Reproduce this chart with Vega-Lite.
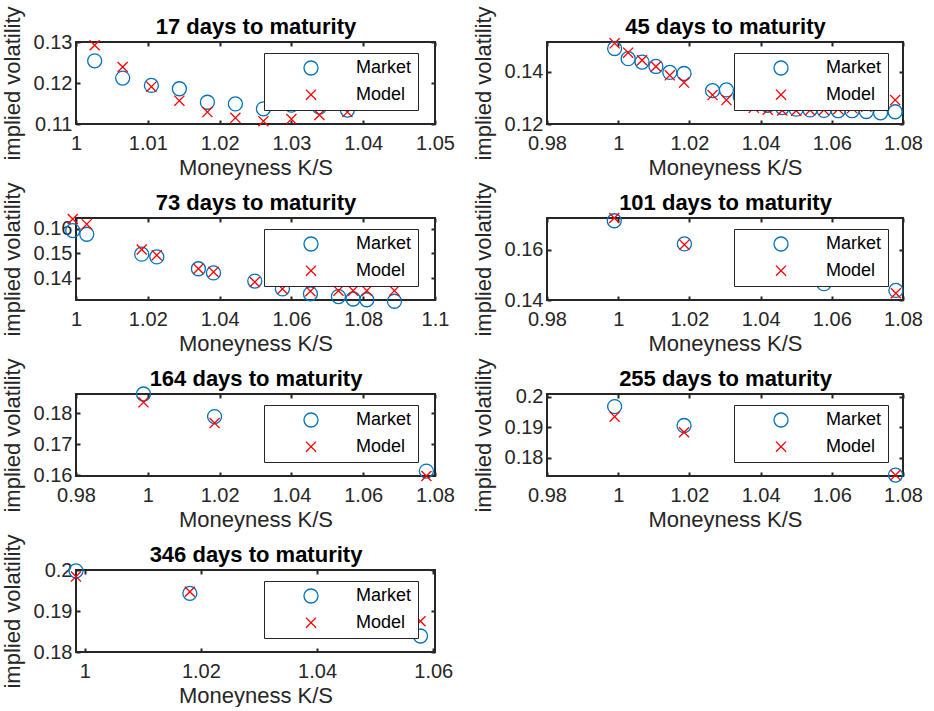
{
"$schema": "https://vega.github.io/schema/vega-lite/v6.json",
"background": "white",
"padding": {"left": 0, "top": 4, "right": 0, "bottom": 0},
"datasets": {"d": [
{"p":17,"s":"Market","k":1.0026,"v":0.1254},{"p":17,"s":"Market","k":1.0065,"v":0.1212},{"p":17,"s":"Market","k":1.0105,"v":0.1194},{"p":17,"s":"Market","k":1.0144,"v":0.1186},{"p":17,"s":"Market","k":1.0183,"v":0.1153},{"p":17,"s":"Market","k":1.0222,"v":0.1149},{"p":17,"s":"Market","k":1.0261,"v":0.1137},{"p":17,"s":"Market","k":1.0300,"v":0.1146},{"p":17,"s":"Market","k":1.0339,"v":0.1141},{"p":17,"s":"Market","k":1.0378,"v":0.1134},
{"p":17,"s":"Model","k":1.0026,"v":0.1292},{"p":17,"s":"Model","k":1.0065,"v":0.1239},{"p":17,"s":"Model","k":1.0105,"v":0.1191},{"p":17,"s":"Model","k":1.0144,"v":0.1157},{"p":17,"s":"Model","k":1.0183,"v":0.1129},{"p":17,"s":"Model","k":1.0222,"v":0.1115},{"p":17,"s":"Model","k":1.0261,"v":0.1107},{"p":17,"s":"Model","k":1.0300,"v":0.1112},{"p":17,"s":"Model","k":1.0339,"v":0.1122},{"p":17,"s":"Model","k":1.0378,"v":0.1129},
{"p":45,"s":"Market","k":0.9990,"v":0.1490},{"p":45,"s":"Market","k":1.0028,"v":0.1451},{"p":45,"s":"Market","k":1.0067,"v":0.1438},{"p":45,"s":"Market","k":1.0106,"v":0.1421},{"p":45,"s":"Market","k":1.0145,"v":0.1398},{"p":45,"s":"Market","k":1.0185,"v":0.1394},{"p":45,"s":"Market","k":1.0265,"v":0.1328},{"p":45,"s":"Market","k":1.0304,"v":0.1331},{"p":45,"s":"Market","k":1.0343,"v":0.1305},{"p":45,"s":"Market","k":1.0381,"v":0.1285},{"p":45,"s":"Market","k":1.0420,"v":0.1272},{"p":45,"s":"Market","k":1.0461,"v":0.1263},{"p":45,"s":"Market","k":1.0500,"v":0.1257},{"p":45,"s":"Market","k":1.0539,"v":0.1254},{"p":45,"s":"Market","k":1.0578,"v":0.1252},{"p":45,"s":"Market","k":1.0618,"v":0.1251},{"p":45,"s":"Market","k":1.0657,"v":0.1251},{"p":45,"s":"Market","k":1.0697,"v":0.1248},{"p":45,"s":"Market","k":1.0737,"v":0.1243},{"p":45,"s":"Market","k":1.0778,"v":0.1247},
{"p":45,"s":"Model","k":0.9990,"v":0.1510},{"p":45,"s":"Model","k":1.0028,"v":0.1474},{"p":45,"s":"Model","k":1.0067,"v":0.1445},{"p":45,"s":"Model","k":1.0106,"v":0.1421},{"p":45,"s":"Model","k":1.0145,"v":0.1387},{"p":45,"s":"Model","k":1.0185,"v":0.1359},{"p":45,"s":"Model","k":1.0265,"v":0.1311},{"p":45,"s":"Model","k":1.0304,"v":0.1292},{"p":45,"s":"Model","k":1.0343,"v":0.1277},{"p":45,"s":"Model","k":1.0381,"v":0.1262},{"p":45,"s":"Model","k":1.0420,"v":0.1255},{"p":45,"s":"Model","k":1.0461,"v":0.1252},{"p":45,"s":"Model","k":1.0500,"v":0.1251},{"p":45,"s":"Model","k":1.0539,"v":0.1253},{"p":45,"s":"Model","k":1.0578,"v":0.1254},{"p":45,"s":"Model","k":1.0618,"v":0.1257},{"p":45,"s":"Model","k":1.0657,"v":0.1261},{"p":45,"s":"Model","k":1.0697,"v":0.1266},{"p":45,"s":"Model","k":1.0737,"v":0.1273},{"p":45,"s":"Model","k":1.0778,"v":0.1292},
{"p":73,"s":"Market","k":0.9991,"v":0.1593},{"p":73,"s":"Market","k":1.0030,"v":0.1578},{"p":73,"s":"Market","k":1.0183,"v":0.1497},{"p":73,"s":"Market","k":1.0225,"v":0.1486},{"p":73,"s":"Market","k":1.0341,"v":0.1438},{"p":73,"s":"Market","k":1.0383,"v":0.1421},{"p":73,"s":"Market","k":1.0498,"v":0.1388},{"p":73,"s":"Market","k":1.0575,"v":0.1356},{"p":73,"s":"Market","k":1.0653,"v":0.1336},{"p":73,"s":"Market","k":1.0731,"v":0.1325},{"p":73,"s":"Market","k":1.0772,"v":0.1315},{"p":73,"s":"Market","k":1.0810,"v":0.1312},{"p":73,"s":"Market","k":1.0887,"v":0.1306},
{"p":73,"s":"Model","k":0.9991,"v":0.1640},{"p":73,"s":"Model","k":1.0030,"v":0.1619},{"p":73,"s":"Model","k":1.0183,"v":0.1516},{"p":73,"s":"Model","k":1.0225,"v":0.1493},{"p":73,"s":"Model","k":1.0341,"v":0.1438},{"p":73,"s":"Model","k":1.0383,"v":0.1425},{"p":73,"s":"Model","k":1.0498,"v":0.1384},{"p":73,"s":"Model","k":1.0575,"v":0.1356},{"p":73,"s":"Model","k":1.0653,"v":0.1347},{"p":73,"s":"Model","k":1.0731,"v":0.1349},{"p":73,"s":"Model","k":1.0772,"v":0.1349},{"p":73,"s":"Model","k":1.0810,"v":0.1349},{"p":73,"s":"Model","k":1.0887,"v":0.1349},
{"p":101,"s":"Market","k":0.9989,"v":0.1715},{"p":101,"s":"Market","k":1.0186,"v":0.1623},{"p":101,"s":"Market","k":1.0578,"v":0.1465},{"p":101,"s":"Market","k":1.0780,"v":0.1438},
{"p":101,"s":"Model","k":0.9989,"v":0.1726},{"p":101,"s":"Model","k":1.0186,"v":0.1620},{"p":101,"s":"Model","k":1.0578,"v":0.1485},{"p":101,"s":"Model","k":1.0780,"v":0.1427},
{"p":164,"s":"Market","k":0.9988,"v":0.1862},{"p":164,"s":"Market","k":1.0186,"v":0.1789},{"p":164,"s":"Market","k":1.0776,"v":0.1613},
{"p":164,"s":"Model","k":0.9988,"v":0.1835},{"p":164,"s":"Model","k":1.0186,"v":0.1768},{"p":164,"s":"Model","k":1.0776,"v":0.1597},
{"p":255,"s":"Market","k":0.9990,"v":0.1968},{"p":255,"s":"Market","k":1.0185,"v":0.1906},{"p":255,"s":"Market","k":1.0779,"v":0.1744},
{"p":255,"s":"Model","k":0.9990,"v":0.1935},{"p":255,"s":"Model","k":1.0185,"v":0.1884},{"p":255,"s":"Model","k":1.0779,"v":0.1744},
{"p":346,"s":"Market","k":0.9985,"v":0.1998},{"p":346,"s":"Market","k":1.0181,"v":0.1943},{"p":346,"s":"Market","k":1.0578,"v":0.1839},
{"p":346,"s":"Model","k":0.9985,"v":0.1984},{"p":346,"s":"Model","k":1.0181,"v":0.1947},{"p":346,"s":"Model","k":1.0578,"v":0.1875}
]},
"data": {"name": "d"},
"columns": 2,
"spacing": {"row": 94, "column": 112},
"bounds": "flush",
"resolve": {"scale": {"x": "independent", "y": "independent", "color": "independent", "shape": "independent"}, "legend": {"color": "independent", "shape": "independent"}, "axis": {"x": "independent", "y": "independent"}},
"concat": [
{"width": 359, "height": 82, "transform": [{"filter": "datum.p == 17"}],
 "layer": [
  {"mark": {"type": "point", "filled": false, "size": 196, "strokeWidth": 1.3, "opacity": 1},
   "encoding": {
    "x": {"field": "k", "type": "quantitative", "scale": {"domain": [1, 1.05], "nice": false, "zero": false}, "axis": {"values": [1, 1.01, 1.02, 1.03, 1.04, 1.05], "title": "Moneyness K/S", "labelFlush": false, "labelAlign": "center", "labelBound": false}},
    "y": {"field": "v", "type": "quantitative", "scale": {"domain": [0.11, 0.13], "nice": false, "zero": false}, "axis": {"values": [0.11, 0.12, 0.13], "title": "implied volatility"}},
    "color": {"field": "s", "type": "nominal", "scale": {"domain": ["Market", "Model"], "range": ["#0072BD", "#FF0000"]}, "legend": {"title": null, "orient": "none", "legendX": 188, "legendY": 11}},
    "shape": {"field": "s", "type": "nominal", "scale": {"domain": ["Market", "Model"], "range": ["circle", "M-0.72,-0.72L0.72,0.72M-0.72,0.72L0.72,-0.72"]}, "legend": {"title": null, "orient": "none", "legendX": 188, "legendY": 11}}}},
  {"mark": {"type": "point", "opacity": 0},
   "encoding": {
    "x": {"field": "k", "type": "quantitative", "scale": {"domain": [1, 1.05], "nice": false, "zero": false}, "axis": {"orient": "top", "values": [1, 1.01, 1.02, 1.03, 1.04, 1.05], "title": "17 days to maturity"}},
    "y": {"field": "v", "type": "quantitative", "scale": {"domain": [0.11, 0.13], "nice": false, "zero": false}, "axis": {"orient": "right", "values": [0.11, 0.12, 0.13], "title": null}}}}
 ],
 "resolve": {"axis": {"x": "independent", "y": "independent"}}},
{"width": 356, "height": 82, "transform": [{"filter": "datum.p == 45"}],
 "layer": [
  {"mark": {"type": "point", "filled": false, "size": 196, "strokeWidth": 1.3, "opacity": 1},
   "encoding": {
    "x": {"field": "k", "type": "quantitative", "scale": {"domain": [0.98, 1.08], "nice": false, "zero": false}, "axis": {"values": [0.98, 1, 1.02, 1.04, 1.06, 1.08], "title": "Moneyness K/S", "labelFlush": false, "labelAlign": "center", "labelBound": false}},
    "y": {"field": "v", "type": "quantitative", "scale": {"domain": [0.12, 0.1515], "nice": false, "zero": false}, "axis": {"values": [0.12, 0.14], "title": "implied volatility"}},
    "color": {"field": "s", "type": "nominal", "scale": {"domain": ["Market", "Model"], "range": ["#0072BD", "#FF0000"]}, "legend": {"title": null, "orient": "none", "legendX": 187, "legendY": 11}},
    "shape": {"field": "s", "type": "nominal", "scale": {"domain": ["Market", "Model"], "range": ["circle", "M-0.72,-0.72L0.72,0.72M-0.72,0.72L0.72,-0.72"]}, "legend": {"title": null, "orient": "none", "legendX": 187, "legendY": 11}}}},
  {"mark": {"type": "point", "opacity": 0},
   "encoding": {
    "x": {"field": "k", "type": "quantitative", "scale": {"domain": [0.98, 1.08], "nice": false, "zero": false}, "axis": {"orient": "top", "values": [0.98, 1, 1.02, 1.04, 1.06, 1.08], "title": "45 days to maturity"}},
    "y": {"field": "v", "type": "quantitative", "scale": {"domain": [0.12, 0.1515], "nice": false, "zero": false}, "axis": {"orient": "right", "values": [0.12, 0.14], "title": null}}}}
 ],
 "resolve": {"axis": {"x": "independent", "y": "independent"}}},
{"width": 359, "height": 82, "transform": [{"filter": "datum.p == 73"}],
 "layer": [
  {"mark": {"type": "point", "filled": false, "size": 196, "strokeWidth": 1.3, "opacity": 1},
   "encoding": {
    "x": {"field": "k", "type": "quantitative", "scale": {"domain": [1, 1.1], "nice": false, "zero": false}, "axis": {"values": [1, 1.02, 1.04, 1.06, 1.08, 1.1], "title": "Moneyness K/S", "labelFlush": false, "labelAlign": "center", "labelBound": false}},
    "y": {"field": "v", "type": "quantitative", "scale": {"domain": [0.1311, 0.1644], "nice": false, "zero": false}, "axis": {"values": [0.14, 0.15, 0.16], "title": "implied volatility"}},
    "color": {"field": "s", "type": "nominal", "scale": {"domain": ["Market", "Model"], "range": ["#0072BD", "#FF0000"]}, "legend": {"title": null, "orient": "none", "legendX": 188, "legendY": 11}},
    "shape": {"field": "s", "type": "nominal", "scale": {"domain": ["Market", "Model"], "range": ["circle", "M-0.72,-0.72L0.72,0.72M-0.72,0.72L0.72,-0.72"]}, "legend": {"title": null, "orient": "none", "legendX": 188, "legendY": 11}}}},
  {"mark": {"type": "point", "opacity": 0},
   "encoding": {
    "x": {"field": "k", "type": "quantitative", "scale": {"domain": [1, 1.1], "nice": false, "zero": false}, "axis": {"orient": "top", "values": [1, 1.02, 1.04, 1.06, 1.08, 1.1], "title": "73 days to maturity"}},
    "y": {"field": "v", "type": "quantitative", "scale": {"domain": [0.1311, 0.1644], "nice": false, "zero": false}, "axis": {"orient": "right", "values": [0.14, 0.15, 0.16], "title": null}}}}
 ],
 "resolve": {"axis": {"x": "independent", "y": "independent"}}},
{"width": 356, "height": 82, "transform": [{"filter": "datum.p == 101"}],
 "layer": [
  {"mark": {"type": "point", "filled": false, "size": 196, "strokeWidth": 1.3, "opacity": 1},
   "encoding": {
    "x": {"field": "k", "type": "quantitative", "scale": {"domain": [0.98, 1.08], "nice": false, "zero": false}, "axis": {"values": [0.98, 1, 1.02, 1.04, 1.06, 1.08], "title": "Moneyness K/S", "labelFlush": false, "labelAlign": "center", "labelBound": false}},
    "y": {"field": "v", "type": "quantitative", "scale": {"domain": [0.14, 0.1726], "nice": false, "zero": false}, "axis": {"values": [0.14, 0.16], "title": "implied volatility"}},
    "color": {"field": "s", "type": "nominal", "scale": {"domain": ["Market", "Model"], "range": ["#0072BD", "#FF0000"]}, "legend": {"title": null, "orient": "none", "legendX": 187, "legendY": 11}},
    "shape": {"field": "s", "type": "nominal", "scale": {"domain": ["Market", "Model"], "range": ["circle", "M-0.72,-0.72L0.72,0.72M-0.72,0.72L0.72,-0.72"]}, "legend": {"title": null, "orient": "none", "legendX": 187, "legendY": 11}}}},
  {"mark": {"type": "point", "opacity": 0},
   "encoding": {
    "x": {"field": "k", "type": "quantitative", "scale": {"domain": [0.98, 1.08], "nice": false, "zero": false}, "axis": {"orient": "top", "values": [0.98, 1, 1.02, 1.04, 1.06, 1.08], "title": "101 days to maturity"}},
    "y": {"field": "v", "type": "quantitative", "scale": {"domain": [0.14, 0.1726], "nice": false, "zero": false}, "axis": {"orient": "right", "values": [0.14, 0.16], "title": null}}}}
 ],
 "resolve": {"axis": {"x": "independent", "y": "independent"}}},
{"width": 359, "height": 82, "transform": [{"filter": "datum.p == 164"}],
 "layer": [
  {"mark": {"type": "point", "filled": false, "size": 196, "strokeWidth": 1.3, "opacity": 1},
   "encoding": {
    "x": {"field": "k", "type": "quantitative", "scale": {"domain": [0.98, 1.08], "nice": false, "zero": false}, "axis": {"values": [0.98, 1, 1.02, 1.04, 1.06, 1.08], "title": "Moneyness K/S", "labelFlush": false, "labelAlign": "center", "labelBound": false}},
    "y": {"field": "v", "type": "quantitative", "scale": {"domain": [0.1597, 0.1862], "nice": false, "zero": false}, "axis": {"values": [0.16, 0.17, 0.18], "title": "implied volatility"}},
    "color": {"field": "s", "type": "nominal", "scale": {"domain": ["Market", "Model"], "range": ["#0072BD", "#FF0000"]}, "legend": {"title": null, "orient": "none", "legendX": 188, "legendY": 11}},
    "shape": {"field": "s", "type": "nominal", "scale": {"domain": ["Market", "Model"], "range": ["circle", "M-0.72,-0.72L0.72,0.72M-0.72,0.72L0.72,-0.72"]}, "legend": {"title": null, "orient": "none", "legendX": 188, "legendY": 11}}}},
  {"mark": {"type": "point", "opacity": 0},
   "encoding": {
    "x": {"field": "k", "type": "quantitative", "scale": {"domain": [0.98, 1.08], "nice": false, "zero": false}, "axis": {"orient": "top", "values": [0.98, 1, 1.02, 1.04, 1.06, 1.08], "title": "164 days to maturity"}},
    "y": {"field": "v", "type": "quantitative", "scale": {"domain": [0.1597, 0.1862], "nice": false, "zero": false}, "axis": {"orient": "right", "values": [0.16, 0.17, 0.18], "title": null}}}}
 ],
 "resolve": {"axis": {"x": "independent", "y": "independent"}}},
{"width": 356, "height": 82, "transform": [{"filter": "datum.p == 255"}],
 "layer": [
  {"mark": {"type": "point", "filled": false, "size": 196, "strokeWidth": 1.3, "opacity": 1},
   "encoding": {
    "x": {"field": "k", "type": "quantitative", "scale": {"domain": [0.98, 1.08], "nice": false, "zero": false}, "axis": {"values": [0.98, 1, 1.02, 1.04, 1.06, 1.08], "title": "Moneyness K/S", "labelFlush": false, "labelAlign": "center", "labelBound": false}},
    "y": {"field": "v", "type": "quantitative", "scale": {"domain": [0.1741, 0.2009], "nice": false, "zero": false}, "axis": {"values": [0.18, 0.19, 0.2], "title": "implied volatility"}},
    "color": {"field": "s", "type": "nominal", "scale": {"domain": ["Market", "Model"], "range": ["#0072BD", "#FF0000"]}, "legend": {"title": null, "orient": "none", "legendX": 187, "legendY": 11}},
    "shape": {"field": "s", "type": "nominal", "scale": {"domain": ["Market", "Model"], "range": ["circle", "M-0.72,-0.72L0.72,0.72M-0.72,0.72L0.72,-0.72"]}, "legend": {"title": null, "orient": "none", "legendX": 187, "legendY": 11}}}},
  {"mark": {"type": "point", "opacity": 0},
   "encoding": {
    "x": {"field": "k", "type": "quantitative", "scale": {"domain": [0.98, 1.08], "nice": false, "zero": false}, "axis": {"orient": "top", "values": [0.98, 1, 1.02, 1.04, 1.06, 1.08], "title": "255 days to maturity"}},
    "y": {"field": "v", "type": "quantitative", "scale": {"domain": [0.1741, 0.2009], "nice": false, "zero": false}, "axis": {"orient": "right", "values": [0.18, 0.19, 0.2], "title": null}}}}
 ],
 "resolve": {"axis": {"x": "independent", "y": "independent"}}},
{"width": 359, "height": 82, "transform": [{"filter": "datum.p == 346"}],
 "layer": [
  {"mark": {"type": "point", "filled": false, "size": 196, "strokeWidth": 1.3, "opacity": 1},
   "encoding": {
    "x": {"field": "k", "type": "quantitative", "scale": {"domain": [0.9985, 1.0603], "nice": false, "zero": false}, "axis": {"values": [1, 1.02, 1.04, 1.06], "title": "Moneyness K/S", "labelFlush": false, "labelAlign": "center", "labelBound": false}},
    "y": {"field": "v", "type": "quantitative", "scale": {"domain": [0.18, 0.2], "nice": false, "zero": false}, "axis": {"values": [0.18, 0.19, 0.2], "title": "implied volatility"}},
    "color": {"field": "s", "type": "nominal", "scale": {"domain": ["Market", "Model"], "range": ["#0072BD", "#FF0000"]}, "legend": {"title": null, "orient": "none", "legendX": 188, "legendY": 11}},
    "shape": {"field": "s", "type": "nominal", "scale": {"domain": ["Market", "Model"], "range": ["circle", "M-0.72,-0.72L0.72,0.72M-0.72,0.72L0.72,-0.72"]}, "legend": {"title": null, "orient": "none", "legendX": 188, "legendY": 11}}}},
  {"mark": {"type": "point", "opacity": 0},
   "encoding": {
    "x": {"field": "k", "type": "quantitative", "scale": {"domain": [0.9985, 1.0603], "nice": false, "zero": false}, "axis": {"orient": "top", "values": [1, 1.02, 1.04, 1.06], "title": "346 days to maturity"}},
    "y": {"field": "v", "type": "quantitative", "scale": {"domain": [0.18, 0.2], "nice": false, "zero": false}, "axis": {"orient": "right", "values": [0.18, 0.19, 0.2], "title": null}}}}
 ],
 "resolve": {"axis": {"x": "independent", "y": "independent"}}}
],
"config": {
 "font": "Liberation Sans",
 "numberFormat": "~g",
 "view": {"stroke": "#262626", "strokeWidth": 2},
 "axis": {"grid": false, "domain": false, "ticks": true, "tickSize": -4, "tickWidth": 2, "tickColor": "#262626", "labelFont": "Liberation Sans", "labelFontSize": 20, "labelColor": "#262626", "labelFlush": false, "labelOverlap": false, "titleFont": "Liberation Sans", "titleFontSize": 22, "titleFontWeight": "normal", "titleColor": "#262626"},
 "axisBottom": {"labelPadding": 13, "titlePadding": 4, "labelAlign": "center"},
 "axisLeft": {"labelPadding": 8, "titlePadding": 9},
 "axisTop": {"labels": false, "titleFontWeight": "bold", "titleColor": "#000000", "titleFontSize": 22, "titlePadding": 3},
 "axisRight": {"labels": false},
 "legend": {"fillColor": "#ffffff", "strokeColor": "#262626", "strokeWidth": 1, "padding": 6, "symbolOffset": 32, "labelOffset": 36, "rowPadding": 7.7, "labelFont": "Liberation Sans", "labelFontSize": 18, "labelColor": "#000000", "symbolSize": 196, "symbolStrokeWidth": 1.3}
}
}
